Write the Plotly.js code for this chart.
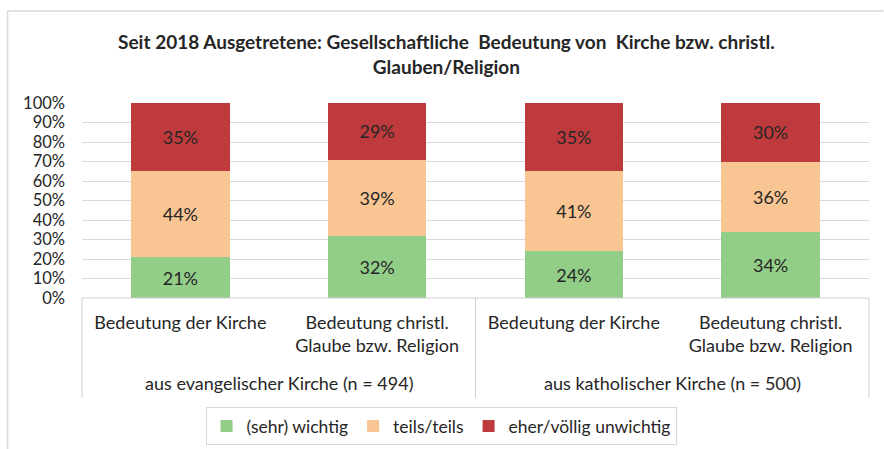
<!DOCTYPE html>
<html>
<head>
<meta charset="utf-8">
<script src="https://cdn.plot.ly/plotly-3.0.1.min.js"></script>
<style>html,body{margin:0;padding:0;background:#fff;}#chart{width:884px;height:449px;}</style>
</head>
<body>
<div id="chart"></div>
<script>
const categories = ["Bedeutung der Kirche", "Bedeutung christl.<br>Glaube bzw. Religion", "Bedeutung der Kirche", "Bedeutung christl.<br>Glaube bzw. Religion"];
const groups = ["aus evangelischer Kirche (n = 494)", "aus katholischer Kirche (n = 500)"];
const positions = [0, 1, 2, 3];
const seriesNames = ["(sehr) wichtig", "teils/teils", "eher/völlig unwichtig"];
const wichtig = [21, 32, 24, 34];
const teils = [44, 39, 41, 36];
const unwichtig = [35, 29, 35, 30];
const yTicks = [0, 10, 20, 30, 40, 50, 60, 70, 80, 90, 100];

const colors = ["#93ce89", "#f9c593", "#bf3a3c"];
const font = "Lato, 'Open Sans', sans-serif";
const txt = "#262626";

function bar(vals, name, color) {
  return {
    type: "bar", x: positions, y: vals, name: name,
    marker: {color: color, line: {width: 0}},
    width: 0.5,
    text: vals.map(v => v + "%"),
    textposition: "inside", insidetextanchor: "middle",
    textfont: {family: font, size: 18, color: txt},
    hoverinfo: "skip"
  };
}
const data = [bar(wichtig, seriesNames[0], colors[0]), bar(teils, seriesNames[1], colors[1]), bar(unwichtig, seriesNames[2], colors[2])];

const L = 81.5, R = 869.5, T = 103, B = 298;
const pw = R - L, ph = B - T;
const py = px => (B - px) / ph;
const pxx = px => (px - L) / pw;
const lineC = "#d0d0d0";

const shapes = [
  {type: "line", xref: "paper", yref: "paper", x0: 0, x1: 1, y0: 0, y1: 0, line: {color: lineC, width: 1}},
  {type: "line", xref: "paper", yref: "paper", x0: 0, x1: 0, y0: 0, y1: py(398), line: {color: lineC, width: 1}},
  {type: "line", xref: "paper", yref: "paper", x0: 0.5, x1: 0.5, y0: 0, y1: py(398), line: {color: lineC, width: 1}},
  {type: "line", xref: "paper", yref: "paper", x0: 1, x1: 1, y0: 0, y1: py(398), line: {color: lineC, width: 1}},
  {type: "line", xref: "paper", yref: "paper", x0: pxx(7), x1: pxx(884), y0: py(11), y1: py(11), line: {color: "#d9d9d9", width: 1.5}},
  {type: "line", xref: "paper", yref: "paper", x0: pxx(7), x1: pxx(7), y0: py(11), y1: py(449), line: {color: "#d9d9d9", width: 1.5}}
];

const annotations = [
  {xref: "x", yref: "paper", x: 0.5, y: py(383), text: groups[0], showarrow: false, yanchor: "middle", font: {family: font, size: 18, color: txt}},
  {xref: "x", yref: "paper", x: 2.5, y: py(383), text: groups[1], showarrow: false, yanchor: "middle", font: {family: font, size: 18, color: txt}}
];

const layout = {
  width: 884, height: 449,
  margin: {l: L, r: 884 - R, t: T, b: 449 - B, pad: 0, autoexpand: false},
  paper_bgcolor: "#ffffff", plot_bgcolor: "#ffffff",
  barmode: "stack",
  title: {
    text: "<b>Seit 2018 Ausgetretene: Gesellschaftliche  Bedeutung von  Kirche bzw. christl.<br>Glauben/Religion</b>",
    x: 0.505, xanchor: "center", y: 1 - 49 / 449, yanchor: "middle",
    font: {family: font, size: 19, color: txt}
  },
  xaxis: {
    range: [-0.5, 3.5], tickmode: "array", tickvals: positions, ticktext: categories,
    showgrid: false, zeroline: false, showline: false, ticks: "", automargin: false,
    tickfont: {family: font, size: 18, color: txt}, ticklabelstandoff: 12, fixedrange: true
  },
  yaxis: {
    range: [0, 100], tickmode: "array", tickvals: yTicks, ticktext: yTicks.map(v => v + "%"),
    showgrid: true, gridcolor: "#d9d9d9", gridwidth: 1, zeroline: false, showline: false, ticks: "", automargin: false,
    tickfont: {family: font, size: 16.5, color: txt}, ticklabelstandoff: 16, fixedrange: true
  },
  legend: {
    orientation: "h", x: pxx(441), xanchor: "center", y: py(407), yanchor: "top",
    bordercolor: "#d9d9d9", borderwidth: 1, bgcolor: "#ffffff",
    font: {family: font, size: 17.5, color: txt}, traceorder: "normal",
    itemwidth: 30
  },
  shapes: shapes, annotations: annotations, showlegend: true
};

Plotly.newPlot("chart", data, layout, {displayModeBar: false, staticPlot: true});
</script>
</body>
</html>
